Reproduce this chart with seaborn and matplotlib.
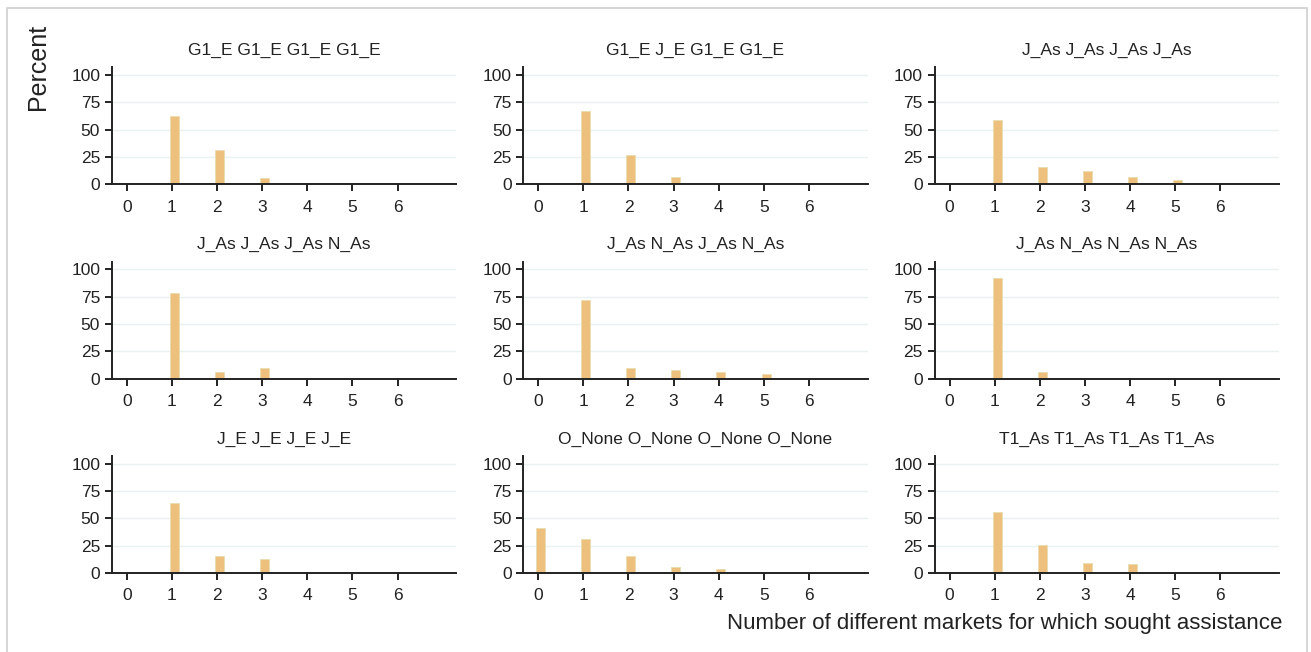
import pandas as pd
import matplotlib
matplotlib.use('Agg')
import matplotlib.pyplot as plt
import seaborn as sns
from matplotlib.patches import Rectangle

# panel titles, in reading order
titles = ['G1_E G1_E G1_E G1_E', 'G1_E J_E G1_E G1_E', 'J_As J_As J_As J_As',
          'J_As J_As J_As N_As', 'J_As N_As J_As N_As', 'J_As N_As N_As N_As',
          'J_E J_E J_E J_E', 'O_None O_None O_None O_None', 'T1_As T1_As T1_As T1_As']

markets = [0, 1, 2, 3, 4, 5, 6]

# percent of respondents per number of markets
g1e_all = [0, 62, 31, 6, 0, 0, 0]
g1e_je = [0, 67, 27, 7, 0, 0, 0]
jas_all = [0, 59, 16, 12, 7, 4, 0]
jas_nas1 = [0, 78, 6, 10, 0, 0, 0]
jas_nas2 = [0, 72, 10, 8, 6, 4, 0]
jas_nas3 = [0, 92, 6, 0, 0, 0, 0]
je_all = [0, 64, 16, 13, 1, 1, 1]
onone_all = [41, 31, 16, 6, 4, 0, 0]
t1as_all = [0, 56, 26, 9, 8, 1, 0]

series = [g1e_all, g1e_je, jas_all, jas_nas1, jas_nas2, jas_nas3, je_all, onone_all, t1as_all]

rows = []
for t, vals in zip(titles, series):
    for m, v in zip(markets, vals):
        rows.append({'group': t, 'markets': m, 'percent': v})
df = pd.DataFrame(rows)

sns.set_style('white')
plt.rcParams['font.family'] = ['Liberation Sans', 'DejaVu Sans']

fig, axes = plt.subplots(3, 3, figsize=(13.11, 6.52), dpi=100)
plt.subplots_adjust(left=0.0854, right=0.9756, top=0.897, bottom=0.121, wspace=0.195, hspace=0.66)

bar_color = '#EEC07E'
for ax, t in zip(axes.flat, titles):
    sub = df[df['group'] == t]
    sns.barplot(data=sub, x='markets', y='percent', native_scale=True, width=0.2,
                color=bar_color, edgecolor='#E8DDB0', linewidth=0.6, saturation=1, ax=ax)
    for p in ax.patches:
        p.set_x(p.get_x() + 0.05)
    ax.set_xlim(-0.33, 7.3)
    ax.set_ylim(0, 107)
    ax.set_xticks(markets)
    ax.set_yticks([0, 25, 50, 75, 100])
    ax.yaxis.grid(True, color='#EAF1F3', linewidth=1)
    ax.set_axisbelow(True)
    ax.set_xlabel('')
    ax.set_ylabel('')
    ax.set_title(t, fontsize=12.5, color='#222222', pad=9)
    sns.despine(ax=ax)
    for s in ['left', 'bottom']:
        ax.spines[s].set_color('#222222')
        ax.spines[s].set_linewidth(1.4)
    ax.tick_params(axis='both', direction='out', length=5, width=1.4, color='#222222',
                   labelsize=12.5, labelcolor='#222222', left=True, bottom=True)
    ax.tick_params(axis='x', pad=6)

fig.text(0.029, 0.831, 'Percent', rotation=90, fontsize=18, color='#222222',
         va='bottom', ha='center')
fig.text(0.978, 0.043, 'Number of different markets for which sought assistance',
         fontsize=16, color='#222222', ha='right', va='center')

fig.patches.append(Rectangle((0.0053, -0.01), 0.9916, 0.998, transform=fig.transFigure,
                             fill=False, edgecolor='#D0D0D0', linewidth=1.2))

plt.savefig('out.png', dpi=100)
